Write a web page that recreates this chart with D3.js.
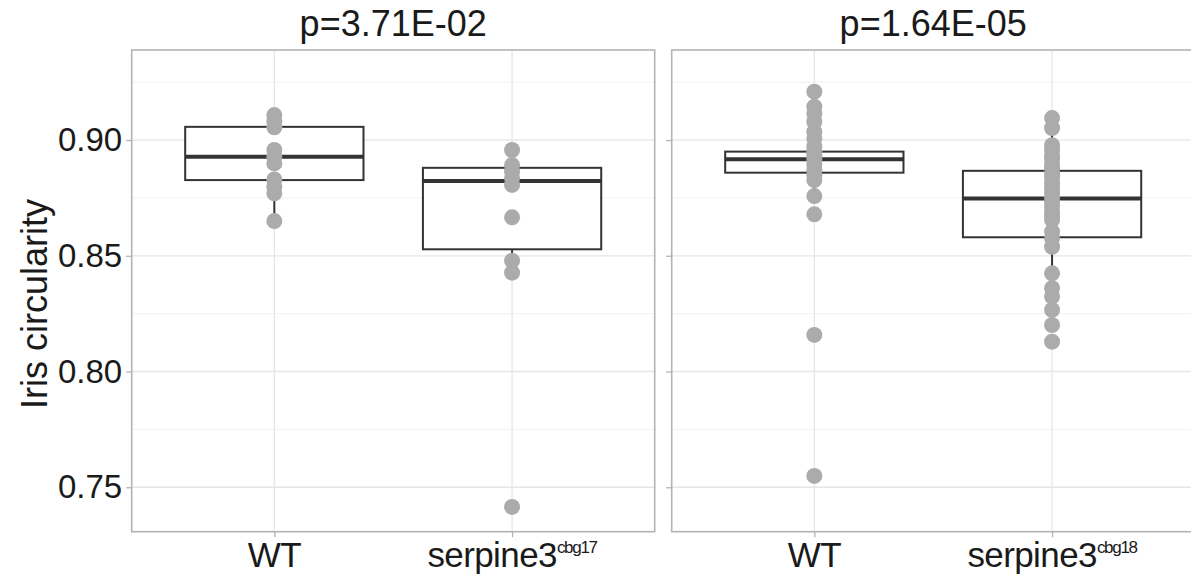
<!DOCTYPE html>
<html>
<head>
<meta charset="utf-8">
<script src="https://cdn.jsdelivr.net/npm/d3@7"></script>
<style>
  body { margin: 0; background: #fff; }
  text { font-family: "Liberation Sans", Arial, sans-serif; fill: #1a1a1a; }
</style>
</head>
<body>
<div id="chart"></div>
<script>
/* Iris circularity boxplots, two panels */

let width = 1191,
    height = 575;

// panel titles and categories
const titles = ["p=3.71E-02", "p=1.64E-05"];
const groups = ["WT", "serpine3"];
const alleles = ["cbg17", "cbg18"];
const yTicks = [0.75, 0.80, 0.85, 0.90];

// individual fish values
const leftWT = [0.9108, 0.9079, 0.9055, 0.8957, 0.8928, 0.8899, 0.8830, 0.8798, 0.8770, 0.8650];
const leftMut = [0.8957, 0.8892, 0.8863, 0.8835, 0.8806, 0.8666, 0.8479, 0.8427, 0.7415];
const rightWT = [0.9209, 0.9144, 0.9115, 0.9079, 0.9036, 0.9007, 0.8971, 0.8952, 0.8933,
                 0.8915, 0.8893, 0.8871, 0.8848, 0.8827, 0.8758, 0.8679, 0.8158, 0.7549];
const rightMut = [0.9095, 0.9052, 0.8978, 0.8957, 0.8931, 0.8918, 0.8893, 0.8876, 0.8851,
                  0.8837, 0.8812, 0.8790, 0.8771, 0.8752, 0.8733, 0.8714, 0.8690, 0.8672,
                  0.8655, 0.8604, 0.8576, 0.8539, 0.8424, 0.8360, 0.8324, 0.8266, 0.8201, 0.8129];

// box summaries: [lower whisker, q1, median, q3, upper whisker]
const leftWTBox = [0.8650, 0.8827, 0.8928, 0.9057, 0.9108];
const leftMutBox = [0.8427, 0.8528, 0.8823, 0.8880, 0.8957];
const rightWTBox = [0.8758, 0.8859, 0.8917, 0.8950, 0.9079];
const rightMutBox = [0.8201, 0.8580, 0.8748, 0.8867, 0.9095];

const panels = [
  { title: titles[0], allele: alleles[0], x0: 131.7, pts: [leftWT, leftMut], box: [leftWTBox, leftMutBox] },
  { title: titles[1], allele: alleles[1], x0: 671.7, pts: [rightWT, rightMut], box: [rightWTBox, rightMutBox] }
];

const panelW = 523,
      pTop = 50,
      pBottom = 531.7;

const svg = d3.select("#chart")
  .append("svg")
  .attr("width", width)
  .attr("height", height);

let y = d3.scaleLinear()
  .domain([0.7308, 0.9389])
  .range([pBottom, pTop]);

const minor = [0.725, 0.775, 0.825, 0.875, 0.925];

panels.forEach((p, i) => {
  let x = d3.scalePoint()
    .domain(groups)
    .range([p.x0, p.x0 + panelW])
    .padding(0.6);
  let bw = x.step() * 0.75;

  const g = svg.append("g");

  // grid
  g.selectAll(".minor")
    .data(minor.filter(v => y(v) > pTop && y(v) < pBottom))
    .join("line")
    .attr("x1", p.x0).attr("x2", p.x0 + panelW)
    .attr("y1", d => y(d)).attr("y2", d => y(d))
    .attr("stroke", "#f2f2f2").attr("stroke-width", 1);

  g.selectAll(".major")
    .data(yTicks)
    .join("line")
    .attr("x1", p.x0).attr("x2", p.x0 + panelW)
    .attr("y1", d => y(d)).attr("y2", d => y(d))
    .attr("stroke", "#e6e6e6").attr("stroke-width", 1.3);

  g.selectAll(".vgrid")
    .data(groups)
    .join("line")
    .attr("x1", d => x(d)).attr("x2", d => x(d))
    .attr("y1", pTop).attr("y2", pBottom)
    .attr("stroke", "#e6e6e6").attr("stroke-width", 1.3);

  // boxes
  groups.forEach((grp, j) => {
    const b = p.box[j];
    const cx = x(grp);
    g.append("line")
      .attr("x1", cx).attr("x2", cx)
      .attr("y1", y(b[0])).attr("y2", y(b[1]))
      .attr("stroke", "#333").attr("stroke-width", 2);
    g.append("line")
      .attr("x1", cx).attr("x2", cx)
      .attr("y1", y(b[3])).attr("y2", y(b[4]))
      .attr("stroke", "#333").attr("stroke-width", 2);
    g.append("rect")
      .attr("x", cx - bw / 2).attr("width", bw)
      .attr("y", y(b[3])).attr("height", y(b[1]) - y(b[3]))
      .attr("fill", "#fff").attr("stroke", "#333").attr("stroke-width", 2);
    g.append("line")
      .attr("x1", cx - bw / 2).attr("x2", cx + bw / 2)
      .attr("y1", y(b[2])).attr("y2", y(b[2]))
      .attr("stroke", "#333").attr("stroke-width", 4);

    g.selectAll(null)
      .data(p.pts[j])
      .join("circle")
      .attr("cx", cx)
      .attr("cy", d => y(d))
      .attr("r", 8)
      .attr("fill", "#ababab");
  });

  // panel border
  g.append("rect")
    .attr("x", p.x0).attr("y", pTop)
    .attr("width", panelW).attr("height", pBottom - pTop)
    .attr("fill", "none").attr("stroke", "#b3b3b3").attr("stroke-width", 1.6);

  // y axis ticks (labels only on the first panel)
  const ax = svg.append("g")
    .attr("transform", `translate(${p.x0},0)`)
    .call(d3.axisLeft(y).tickValues(yTicks).tickSize(5.5).tickPadding(4)
      .tickFormat(i === 0 ? d3.format(".2f") : () => ""));
  ax.select(".domain").remove();
  ax.selectAll("line").attr("stroke", "#b3b3b3").attr("stroke-width", 1.3);
  ax.selectAll("text").style("font-size", "33px").attr("fill", "#1a1a1a");

  // x axis
  const xa = svg.append("g")
    .attr("transform", `translate(0,${pBottom})`)
    .call(d3.axisBottom(x).tickSize(5.5).tickFormat(""));
  xa.select(".domain").remove();
  xa.selectAll("line").attr("stroke", "#b3b3b3").attr("stroke-width", 1.3);

  groups.forEach(grp => {
    const t = svg.append("text")
      .attr("x", x(grp))
      .attr("y", 567)
      .attr("text-anchor", "middle")
      .style("font-size", "35px")
      .style("letter-spacing", "-0.6px");
    t.append("tspan").text(grp);
    if (grp !== "WT") {
      t.append("tspan")
        .attr("dy", -14)
        .style("font-size", "17px")
        .style("letter-spacing", "-1.3px")
        .text(p.allele);
    }
  });

  svg.append("text")
    .attr("x", p.x0 + panelW / 2)
    .attr("y", 36)
    .attr("text-anchor", "middle")
    .style("font-size", "36px")
    .text(p.title);
});

svg.append("text")
  .attr("transform", `translate(47,304) rotate(-90)`)
  .attr("text-anchor", "middle")
  .style("font-size", "36px")
  .text("Iris circularity");
</script>
</body>
</html>
